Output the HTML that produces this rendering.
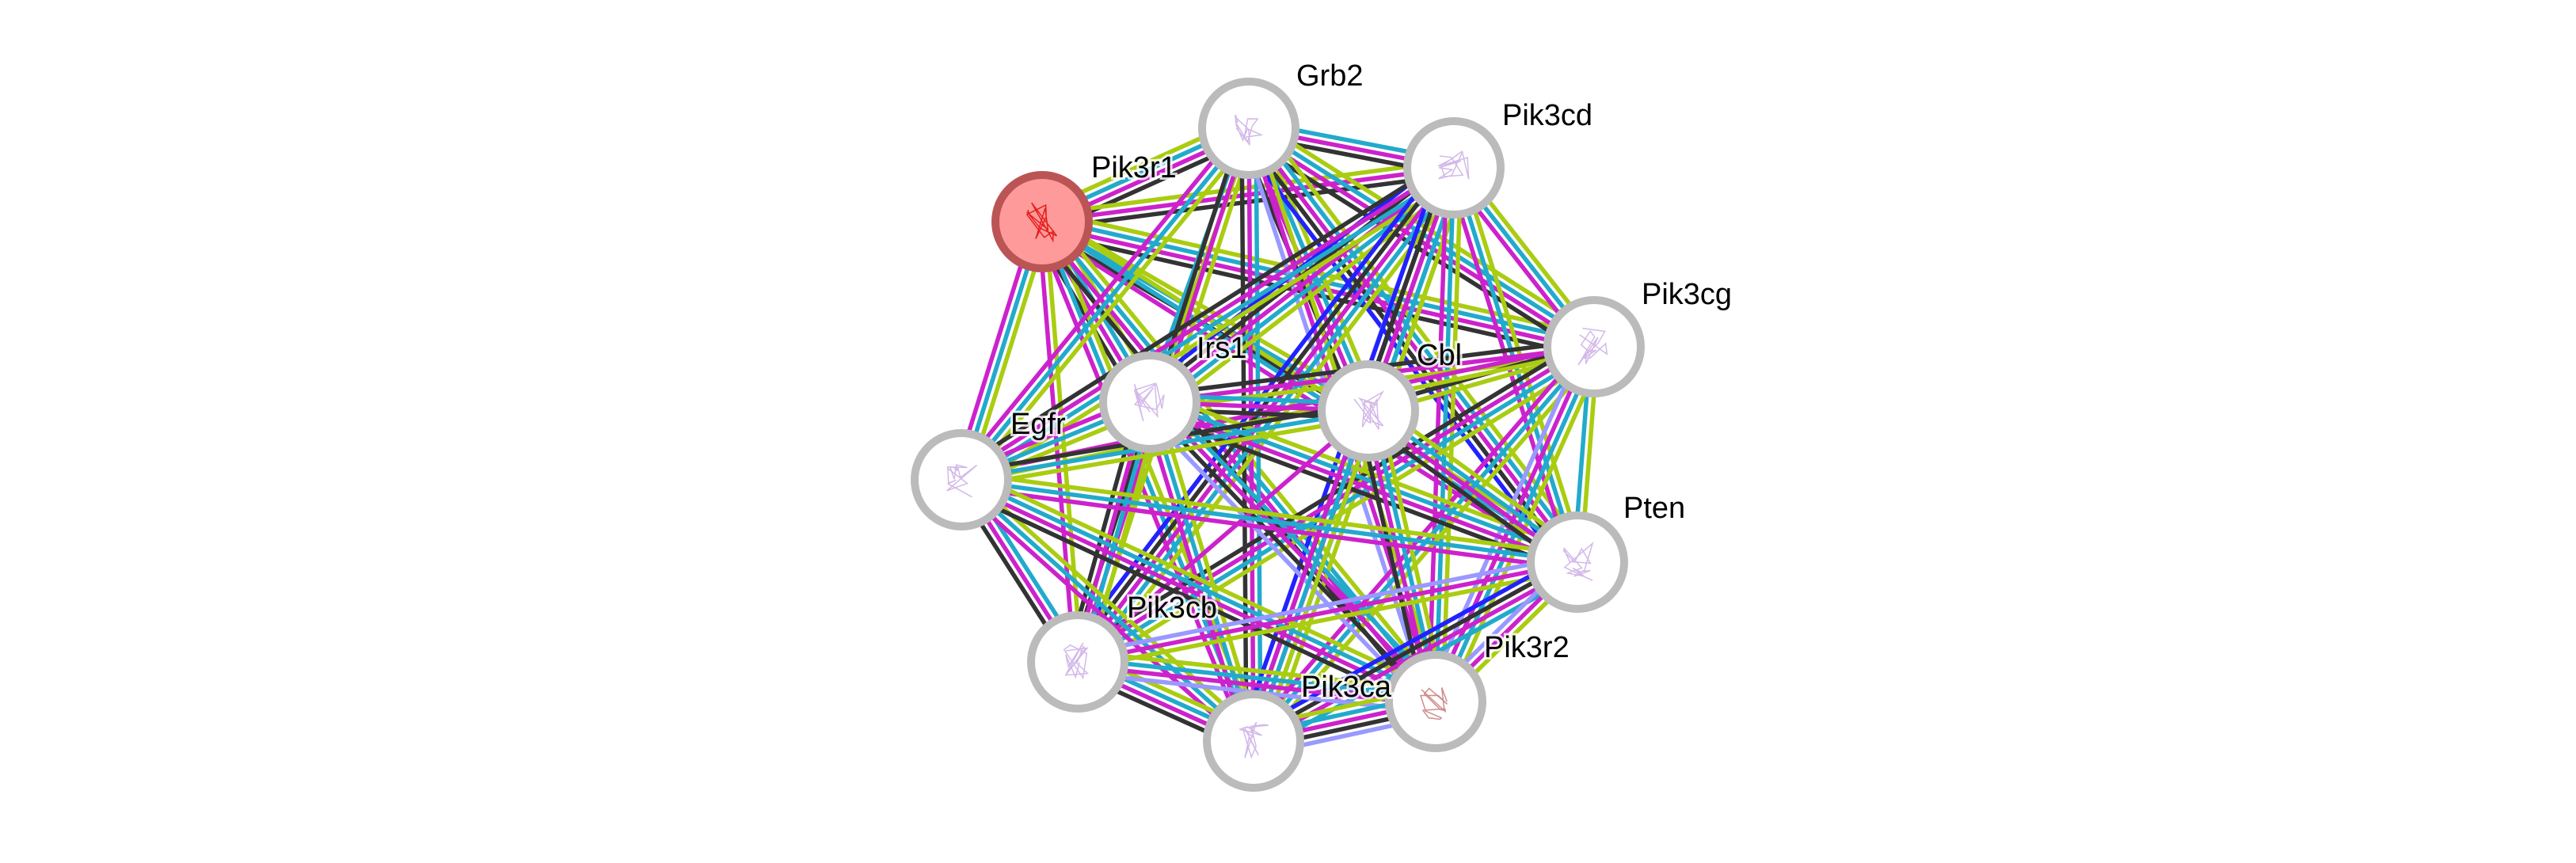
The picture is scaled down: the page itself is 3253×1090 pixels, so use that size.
<!DOCTYPE html>
<html><head><meta charset="utf-8"><style>
html,body{margin:0;padding:0;background:#fff;width:3253px;height:1090px;overflow:hidden}
svg{display:block}
text{font-family:"Liberation Sans",sans-serif;font-size:38px;fill:#000}
</style></head><body>
<svg id="s" width="3253" height="1090" viewBox="0 0 3253 1090">
<g id="edges"></g><g id="nodes"></g><g id="labels">
<text x="1637" y="108" paint-order="stroke" stroke="#fff" stroke-width="6" stroke-opacity="0.8">Grb2</text>
<text x="1897" y="158" paint-order="stroke" stroke="#fff" stroke-width="6" stroke-opacity="0.8">Pik3cd</text>
<text x="1378" y="224" paint-order="stroke" stroke="#fff" stroke-width="6" stroke-opacity="0.8">Pik3r1</text>
<text x="2073" y="384" paint-order="stroke" stroke="#fff" stroke-width="6" stroke-opacity="0.8">Pik3cg</text>
<text x="1511" y="452" paint-order="stroke" stroke="#fff" stroke-width="6" stroke-opacity="0.8">Irs1</text>
<text x="1789" y="461" paint-order="stroke" stroke="#fff" stroke-width="6" stroke-opacity="0.8">Cbl</text>
<text x="1276" y="548" paint-order="stroke" stroke="#fff" stroke-width="6" stroke-opacity="0.8">Egfr</text>
<text x="2050" y="654" paint-order="stroke" stroke="#fff" stroke-width="6" stroke-opacity="0.8">Pten</text>
<text x="1423" y="780" paint-order="stroke" stroke="#fff" stroke-width="6" stroke-opacity="0.8">Pik3cb</text>
<text x="1643" y="880" paint-order="stroke" stroke="#fff" stroke-width="6" stroke-opacity="0.8">Pik3ca</text>
<text x="1874" y="830" paint-order="stroke" stroke="#fff" stroke-width="6" stroke-opacity="0.8">Pik3r2</text>
</g></svg>
<script>
var N=[[1316,280],[1577,162],[1836,212],[2013,438],[1452,508],[1728,519],[1214,606],[1992,710],[1361,836],[1583,936],[1813,886]];
var C=["#aacc11","#22aacc","#cc22cc","#333333","#2222ff","#9999ff"];
var ns="http://www.w3.org/2000/svg",E=document.getElementById("edges"),G=document.getElementById("nodes");
var seed=7;function rnd(){seed=(seed*9301+49297)%233280;return seed/233280;}
for(var i=0;i<N.length;i++)for(var j=i+1;j<N.length;j++){
 var cols=[];
 if(rnd()<0.85)cols.push(C[0]);
 if(rnd()<0.85)cols.push(C[1]);
 if(rnd()<0.85)cols.push(C[2]);
 if(rnd()<0.5)cols.push(C[3]);
 if(rnd()<0.1)cols.push(C[4]);
 if(rnd()<0.12)cols.push(C[5]);
 if(!cols.length)cols.push(C[0]);
 var a=N[i],b=N[j],dx=b[0]-a[0],dy=b[1]-a[1],L=Math.hypot(dx,dy),px=-dy/L,py=dx/L;
 var k=cols.length;
 for(var m=0;m<k;m++){var o=(m-(k-1)/2)*9;
  var l=document.createElementNS(ns,"line");
  l.setAttribute("x1",a[0]+px*o);l.setAttribute("y1",a[1]+py*o);
  l.setAttribute("x2",b[0]+px*o);l.setAttribute("y2",b[1]+py*o);
  l.setAttribute("stroke",cols[m]);l.setAttribute("stroke-width","5.5");E.appendChild(l);}
}
for(var i=0;i<N.length;i++){
 var c=document.createElementNS(ns,"circle");c.setAttribute("cx",N[i][0]);c.setAttribute("cy",N[i][1]);c.setAttribute("r","59");
 c.setAttribute("fill",i==0?"#ff9a9a":"#fff");c.setAttribute("stroke",i==0?"#bb5555":"#bbbbbb");c.setAttribute("stroke-width","10");G.appendChild(c);
 var p=document.createElementNS(ns,"path"),x=N[i][0],y=N[i][1],d="M"+(x-18)+" "+(y-15);
 for(var t=0;t<16;t++)d+=" L"+(x-20+rnd()*40)+" "+(y-24+rnd()*48);
 p.setAttribute("d",d);p.setAttribute("fill","none");p.setAttribute("stroke",i==0?"#dd0000":(i==10?"#c07070":"#c8a8e4"));p.setAttribute("stroke-width","1.5");p.setAttribute("opacity","0.8");G.appendChild(p);
}
</script>
</body></html>
